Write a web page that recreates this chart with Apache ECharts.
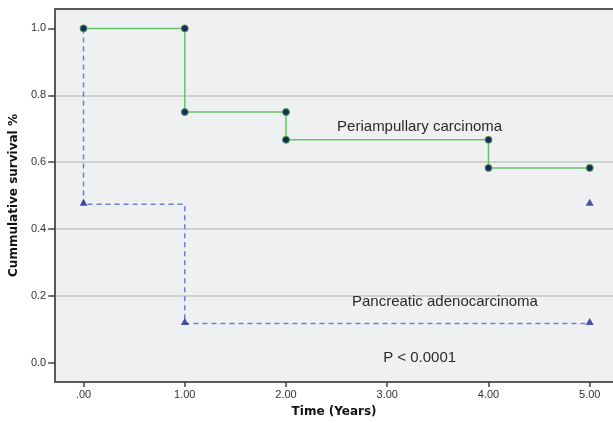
<!DOCTYPE html>
<html>
<head>
<meta charset="utf-8">
<script src="https://cdn.jsdelivr.net/npm/echarts@6/dist/echarts.min.js"></script>
<style>
  html, body { margin: 0; padding: 0; background: #fff; }
  #chart { width: 613px; height: 423px; }
</style>
</head>
<body>
<div id="chart"></div>
<script>
// Kaplan-Meier curves
var periTimes = [0, 1, 1, 2, 2, 4, 4, 5];
var periSurv = [1.0, 1.0, 0.75, 0.75, 0.667, 0.667, 0.583, 0.583];

var pancTimes = [0, 0, 1, 1, 5];
var pancSurv = [1.0, 0.474, 0.474, 0.118, 0.118];
// censored marks (triangles)
var pancMarkTimes = [0, 1, 5, 5];
var pancMarkSurv = [0.474, 0.118, 0.118, 0.474];

var xTicks = [0, 1, 2, 3, 4, 5];
var yTicks = [0, 0.2, 0.4, 0.6, 0.8, 1.0];

function pairs(xs, ys) {
  return xs.map(function (x, i) { return [x, ys[i]]; });
}

var font = 'Liberation Sans, Arial, sans-serif';
var titleFont = 'DejaVu Sans, Liberation Sans, sans-serif';
var axisColor = '#5a5a5a';
var chart = echarts.init(document.getElementById('chart'));

chart.setOption({
  animation: false,
  backgroundColor: '#ffffff',
  grid: {
    left: 55, top: 9, right: 0, height: 374,
    show: true,
    backgroundColor: '#eff0f2',
    borderWidth: 0
  },
  xAxis: [{
    type: 'value',
    min: -0.28, max: 5.23,
    name: 'Time (Years)',
    nameLocation: 'middle',
    nameGap: 24,
    nameTextStyle: { fontFamily: titleFont, fontWeight: 'bold', fontSize: 12, color: '#111' },
    axisLine: { show: true, onZero: false, lineStyle: { color: axisColor, width: 2 } },
    axisTick: { show: true, customValues: xTicks, length: 5, lineStyle: { color: '#444', width: 1.5 } },
    axisLabel: {
      customValues: xTicks, margin: 7,
      fontFamily: font, fontSize: 11, color: '#333',
      formatter: function (v) { return v === 0 ? '.00' : v.toFixed(2); }
    },
    splitLine: { show: false }
  }, {
    // top frame line
    type: 'value',
    position: 'top',
    min: -0.28, max: 5.23,
    axisLine: { show: true, onZero: false, lineStyle: { color: axisColor, width: 2 } },
    axisTick: { show: false },
    axisLabel: { show: false },
    splitLine: { show: false }
  }],
  yAxis: {
    type: 'value',
    min: -0.057, max: 1.058,
    name: 'Cummulative survival %',
    nameLocation: 'middle',
    nameGap: 33,
    nameTextStyle: { fontFamily: titleFont, fontWeight: 'bold', fontSize: 12, color: '#111' },
    axisLine: { show: true, onZero: false, lineStyle: { color: axisColor, width: 2 } },
    axisTick: { show: true, customValues: yTicks, length: 7, lineStyle: { color: '#444', width: 1.5 } },
    axisLabel: {
      customValues: yTicks, margin: 9,
      fontFamily: font, fontSize: 11, color: '#333',
      formatter: function (v) { return v.toFixed(1); }
    },
    splitLine: {
      show: true, showMinLine: false, showMaxLine: false,
      lineStyle: { color: '#c6c6c6', width: 1.5 }
    }
  },
  series: [
    {
      name: 'Pancreatic adenocarcinoma',
      type: 'line',
      data: pairs(pancTimes, pancSurv),
      showSymbol: false,
      symbol: 'none',
      lineStyle: { color: '#6a7fd6', width: 1.5, type: [5, 4] },
      z: 2
    },
    {
      name: 'Pancreatic censored',
      type: 'scatter',
      data: pairs(pancMarkTimes, pancMarkSurv),
      symbol: 'triangle',
      symbolSize: [8, 7],
      symbolOffset: [0, -2],
      itemStyle: { color: '#1f2d8c' },
      z: 3
    },
    {
      name: 'Periampullary carcinoma',
      type: 'line',
      data: pairs(periTimes, periSurv),
      symbol: 'circle',
      symbolSize: 7,
      showSymbol: true,
      lineStyle: { color: '#66c466', width: 1.5 },
      itemStyle: { color: '#1b2a5c', borderColor: '#4ca84c', borderWidth: 1 },
      z: 4
    }
  ]
});

// text annotations placed in data coordinates
var notes = [
  { text: 'Periampullary carcinoma', at: [3.32, 0.707] },
  { text: 'Pancreatic adenocarcinoma', at: [3.57, 0.182] },
  { text: 'P < 0.0001', at: [3.32, 0.015] }
];
chart.setOption({
  graphic: notes.map(function (n) {
    var p = chart.convertToPixel({ gridIndex: 0 }, n.at);
    return {
      type: 'text', x: p[0], y: p[1], z: 10,
      style: {
        text: n.text, fill: '#2a2a2a',
        font: '15px ' + font,
        textAlign: 'center', textVerticalAlign: 'middle'
      }
    };
  })
});
</script>
</body>
</html>
